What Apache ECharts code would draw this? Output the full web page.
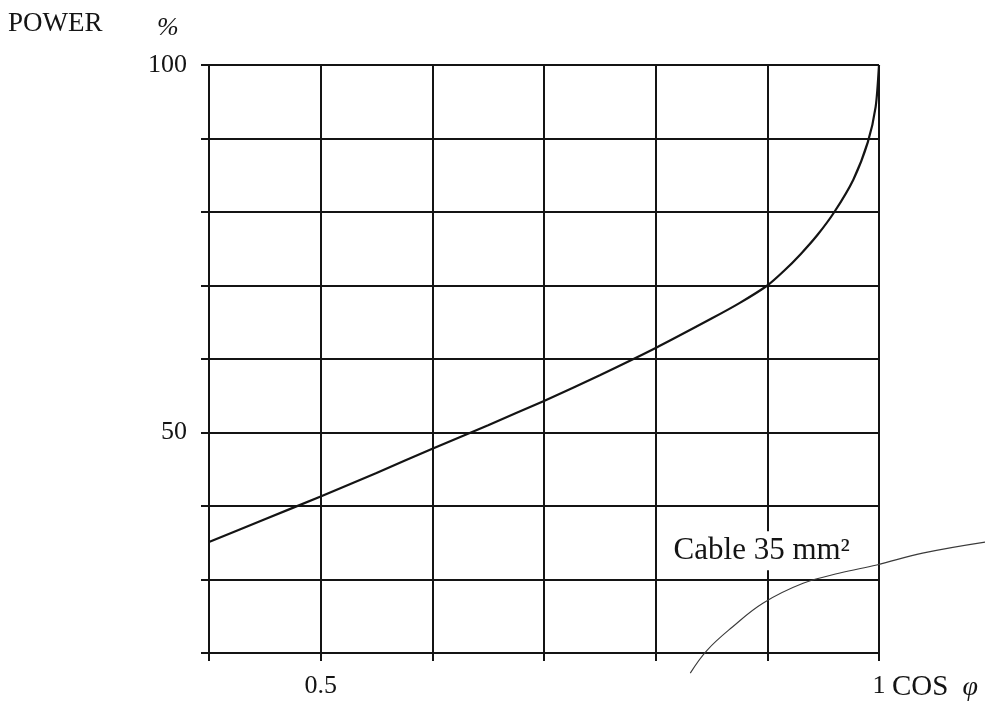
<!DOCTYPE html>
<html>
<head>
<meta charset="utf-8">
<script src="https://cdn.jsdelivr.net/npm/echarts@6/dist/echarts.min.js"></script>
<style>
html,body{margin:0;padding:0;background:#fff;}
#c{width:985px;height:702px;}
</style>
</head>
<body>
<div id="c"></div>
<script>
// ---- data ----
var cosPhi = [0.40, 0.45, 0.50, 0.55, 0.60, 0.65, 0.70, 0.75, 0.80, 0.85, 0.875, 0.90, 0.915, 0.93, 0.945, 0.96, 0.977, 0.99, 0.997, 1.0];
var power  = [35.1, 38.2, 41.3, 44.5, 47.8, 51.0, 54.3, 57.8, 61.5, 65.5, 67.6, 70.0, 72.0, 74.3, 76.9, 80.0, 84.4, 89.5, 94.3, 100];
var leaderX = [0.831, 0.846, 0.869, 0.896, 0.932, 0.965, 0.998, 1.039, 1.095];
var leaderY = [17.4, 20.5, 23.7, 26.9, 29.6, 31.0, 32.1, 33.7, 35.2];
var cableLabel = 'Cable 35 mm²';
var cableLabelPos = [0.895, 33.9];
var xTickLabels = ['0.5', '1'];
var yTickLabels = ['50', '100'];
var xName = 'COS';
var xSymbol = 'φ';
var yTitle = 'POWER';
var yUnit = '%';

var X_MIN = 0.4, X_MAX = 1.0, Y_MIN = 20, Y_MAX = 100;

var FONT = '"Liberation Serif", "DejaVu Serif", serif';
var INK = '#141414';

function pairs(xs, ys){ return xs.map(function(x,i){ return [x, ys[i]]; }); }
function matchLabel(v, labels){
  for (var i=0;i<labels.length;i++){ if (Math.abs(parseFloat(labels[i]) - v) < 1e-6) return labels[i]; }
  return '';
}

// main grid geometry
var W = 985, H = 702;
var G = {left:209, right:106, top:65, bottom:48};
// an overlay grid with identical scale that extends to the right/bottom edges, for the leader line
var gw = W - G.left - G.right, gh = H - G.top - G.bottom;
var G2 = {left:G.left, right:0, top:G.top, bottom:20};
var g2w = W - G2.left - G2.right, g2h = H - G2.top - G2.bottom;
var x2Max = X_MIN + (X_MAX - X_MIN) * g2w / gw;
var y2Min = Y_MAX - (Y_MAX - Y_MIN) * g2h / gh;

function textGraphics(p){
  var g = [
    {type:'text', left:8, top:10, style:{text:yTitle, font:'27px ' + FONT, fill:INK}},
    {type:'text', left:157, top:15, style:{text:yUnit, font:'italic 26px ' + FONT, fill:INK}}
  ];
  if (p) {
    g.push({type:'text', x:p[0], y:p[1], z:10,
      style:{text:cableLabel, font:'31px ' + FONT, fill:INK, align:'center', verticalAlign:'middle',
        backgroundColor:'#fff', padding:[6,0,2,0]}});
  }
  return g;
}

var chart = echarts.init(document.getElementById('c'), null, {renderer:'canvas'});
chart.setOption({
  animation:false,
  backgroundColor:'#fff',
  grid:[
    {left:G.left, right:G.right, top:G.top, bottom:G.bottom, containLabel:false},
    {left:G2.left, right:G2.right, top:G2.top, bottom:G2.bottom, containLabel:false}
  ],
  xAxis:[{
    type:'value', min:X_MIN, max:X_MAX, interval:0.1, gridIndex:0,
    name:'{a|' + xName + '}{b|' + xSymbol + '}',
    nameLocation:'end', nameGap:13,
    nameTextStyle:{
      verticalAlign:'top', padding:[20,0,0,0],
      rich:{
        a:{fontFamily:FONT, fontSize:29, color:INK},
        b:{fontFamily:FONT, fontSize:28, fontStyle:'italic', color:INK, padding:[0,0,0,14]}
      }
    },
    axisLine:{show:true, lineStyle:{color:INK, width:2}},
    axisTick:{show:true, inside:false, length:8, lineStyle:{color:INK, width:2}},
    axisLabel:{margin:20, fontFamily:FONT, fontSize:26, color:INK,
      formatter:function(v){ return matchLabel(v, xTickLabels); }},
    splitLine:{show:true, lineStyle:{color:INK, width:2}}
  },{
    type:'value', min:X_MIN, max:x2Max, gridIndex:1, show:false
  }],
  yAxis:[{
    type:'value', min:Y_MIN, max:Y_MAX, interval:10, gridIndex:0,
    axisLine:{show:true, lineStyle:{color:INK, width:2}},
    axisTick:{show:true, inside:false, length:8, lineStyle:{color:INK, width:2}},
    axisLabel:{margin:22, fontFamily:FONT, fontSize:26, color:INK,
      formatter:function(v){ return matchLabel(v, yTickLabels); }},
    splitLine:{show:true, lineStyle:{color:INK, width:2}}
  },{
    type:'value', min:y2Min, max:Y_MAX, gridIndex:1, show:false
  }],
  graphic:textGraphics(null),
  series:[
    {
      type:'line', xAxisIndex:0, yAxisIndex:0, data:pairs(cosPhi, power),
      smooth:0.25, showSymbol:false,
      lineStyle:{color:INK, width:2.2}, z:5
    },
    {
      type:'line', xAxisIndex:1, yAxisIndex:1, data:pairs(leaderX, leaderY),
      smooth:0.4, showSymbol:false, clip:false,
      lineStyle:{color:'#3a3a3a', width:1.1}, z:20
    }
  ]
});

// place the annotation through the chart's own scale
var p = chart.convertToPixel({xAxisIndex:0, yAxisIndex:0}, cableLabelPos);
chart.setOption({graphic:textGraphics(p)}, {replaceMerge:['graphic']});
</script>
</body>
</html>
